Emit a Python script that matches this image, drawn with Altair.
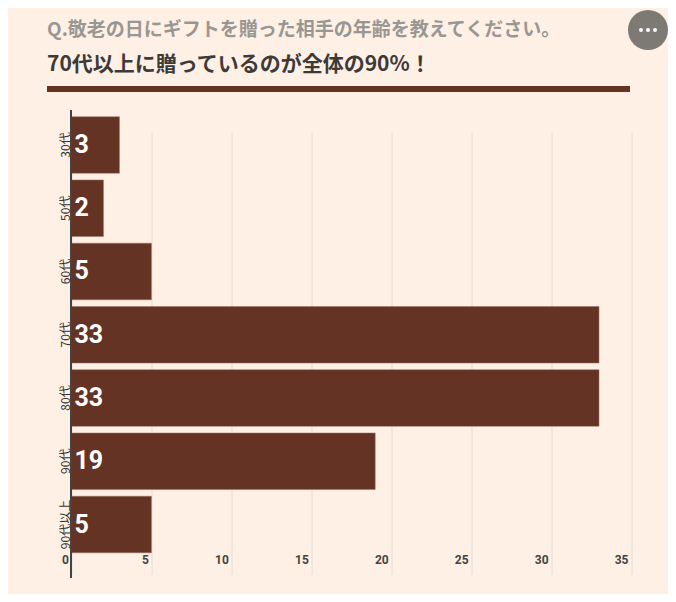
import altair as alt
import pandas as pd

ages = ["30代", "50代", "60代", "70代", "80代", "90代", "90代以上"]
counts = [3, 2, 5, 33, 33, 19, 5]
x_ticks = [0, 5, 10, 15, 20, 25, 30, 35]
dot_offsets = [-7, 0, 7]

QUESTION = "Q.敬老の日にギフトを贈った相手の年齢を教えてください。"
HEADLINE = "70代以上に贈っているのが全体の90%！"

BG = "#FFF0E6"
BROWN = "#643324"
CJK = "Noto Sans CJK JP"

LEFT, TOP = 63.5, 102
W, H = 559.5, 468

df = pd.DataFrame({"age": ages, "count": counts})

x_scale = alt.Scale(domain=[0, 35], nice=False)
y_scale = alt.Scale(domain=ages, range=[3.5, 446], paddingInner=0.105, paddingOuter=0.05)

bars = alt.Chart(df).mark_bar(color=BROWN, stroke="#9a7566", strokeWidth=0.5).encode(
    x=alt.X("count:Q", scale=x_scale, axis=alt.Axis(
        values=x_ticks, title=None, domain=False, ticks=False,
        grid=True, gridColor="#E6DCD2", gridWidth=1,
        labelFont="Roboto", labelFontSize=12, labelFontWeight=700, labelColor="#444444",
        labelAlign="right", labelOffset=-3, labelPadding=-19, labelBaseline="middle",
    )),
    y=alt.Y("age:N", scale=y_scale, sort=ages, axis=alt.Axis(
        title=None, domain=False, ticks=False, grid=False,
        labelAngle=270, labelAlign="center", labelBaseline="middle",
        labelFont=CJK, labelFontSize=12, labelColor="#333333", labelPadding=6,
    )),
)

labels = alt.Chart(df).mark_text(
    align="left", baseline="middle", dx=3, color="white",
    font="Roboto", fontSize=25, fontWeight=700,
).encode(
    x=alt.value(0),
    y=alt.Y("age:N", scale=y_scale, sort=ages),
    text="count:Q",
)

axis_line = alt.Chart(pd.DataFrame({"k": [0]})).mark_rule(color="#444444", strokeWidth=2).encode(
    x=alt.value(-0.5), y=alt.value(0), y2=alt.value(H)
)

header_rule = alt.Chart(pd.DataFrame({"k": [0]})).mark_rule(color=BROWN, strokeWidth=6).encode(
    x=alt.value(47 - 8 - LEFT), x2=alt.value(630 - 8 - LEFT), y=alt.value(89 - 8 - TOP)
)

question = alt.Chart(pd.DataFrame({"t": [QUESTION]})).mark_text(
    align="left", baseline="middle", font=CJK, fontSize=19, fontWeight=700, color="#999793"
).encode(x=alt.value(47 - 8 - LEFT), y=alt.value(30 - 8 - TOP), text="t:N")

headline = alt.Chart(pd.DataFrame({"t": [HEADLINE]})).mark_text(
    align="left", baseline="middle", font=CJK, fontSize=21, fontWeight=700, color="#3d3a38"
).encode(x=alt.value(47 - 8 - LEFT), y=alt.value(65 - 8 - TOP), text="t:N")

circle = alt.Chart(pd.DataFrame({"k": [0]})).mark_point(
    shape="circle", filled=True, size=1600, color="#7D7974", opacity=1
).encode(x=alt.value(648 - 8 - LEFT), y=alt.value(30 - 8 - TOP))

dots = [
    alt.Chart(pd.DataFrame({"k": [d]})).mark_point(
        shape="circle", filled=True, size=16, color="white", opacity=1
    ).encode(x=alt.value(648 - 8 - LEFT + d), y=alt.value(30 - 8 - TOP))
    for d in dot_offsets
]

chart = alt.layer(bars, labels, axis_line, header_rule, question, headline, circle, *dots).properties(
    width=W, height=H,
    background=BG,
    padding={"left": LEFT, "top": TOP, "right": 660 - LEFT - W, "bottom": 586 - TOP - H},
    autosize=alt.AutoSizeParams(type="none"),
).configure_view(stroke=None)

chart.save("out.html", embed_options={"renderer": "svg", "actions": False})
